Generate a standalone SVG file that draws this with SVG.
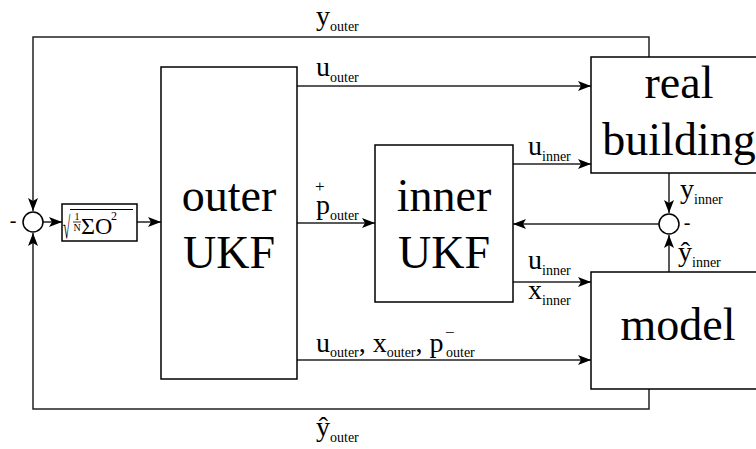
<svg xmlns="http://www.w3.org/2000/svg" width="756" height="449" viewBox="0 0 756 449">
<style>
.box{fill:#fff;stroke:#000;stroke-width:1.5}
.ln{fill:none;stroke:#222;stroke-width:1.5}
text{font-family:'Liberation Serif','DejaVu Serif',serif;fill:#000}
.big{font-size:46px;text-anchor:middle}
.lbl{font-size:28px}
.sub{font-size:14px}
</style>
<defs>
<marker id="ah" markerUnits="userSpaceOnUse" markerWidth="14" markerHeight="10" refX="13" refY="5" orient="auto">
<path d="M0,0 L13,5 L0,10 L3,5 Z" fill="#000"/>
</marker>
</defs>
<g id="connectors">
<path class="ln" d="M649,57 V37 H33 V211" marker-end="url(#ah)"/>
<path class="ln" d="M649,389 V409 H33 V233" marker-end="url(#ah)"/>
<path class="ln" d="M43,222 H62" marker-end="url(#ah)"/>
<path class="ln" d="M137,222 H161" marker-end="url(#ah)"/>
<path class="ln" d="M297,86 H591" marker-end="url(#ah)"/>
<path class="ln" d="M297,223 H375" marker-end="url(#ah)"/>
<path class="ln" d="M297,360 H591" marker-end="url(#ah)"/>
<path class="ln" d="M513,164 H591" marker-end="url(#ah)"/>
<path class="ln" d="M513,282 H591" marker-end="url(#ah)"/>
<path class="ln" d="M659,224 H513" marker-end="url(#ah)"/>
<path class="ln" d="M669,173 V213" marker-end="url(#ah)"/>
<path class="ln" d="M669,272 V235" marker-end="url(#ah)"/>
</g>
<g id="sum-left">
<circle cx="33" cy="222" r="10" fill="#fff" stroke="#000" stroke-width="1.5"/>
<text x="13" y="227" font-size="20" text-anchor="middle">-</text>
</g>
<g id="sum-right">
<circle cx="669" cy="224" r="10" fill="#fff" stroke="#000" stroke-width="1.5"/>
<text x="687" y="229" font-size="20" text-anchor="middle">-</text>
</g>
<g id="rms">
<rect class="box" x="62" y="204" width="75" height="37"/>
<text transform="translate(63,238) scale(0.6,1.4)" font-size="22">√</text>
<line x1="70" y1="209.5" x2="133" y2="209.5" stroke="#000" stroke-width="1.2"/>
<text x="77" y="220" font-size="10" text-anchor="middle">1</text>
<line x1="73" y1="222" x2="81" y2="222" stroke="#000" stroke-width="0.8"/>
<text x="77" y="231" font-size="10" text-anchor="middle">N</text>
<text x="81" y="234" font-size="24">ΣO</text>
<text x="111" y="220" font-size="12">2</text>
</g>
<g id="outer-ukf">
<rect class="box" x="161" y="67" width="136" height="312"/>
<text class="big" x="229" y="211">outer</text>
<text class="big" x="229" y="268">UKF</text>
</g>
<g id="inner-ukf">
<rect class="box" x="375" y="145" width="138" height="157"/>
<text class="big" x="444" y="211">inner</text>
<text class="big" x="444" y="268">UKF</text>
</g>
<g id="real-building">
<rect class="box" x="591" y="57" width="180" height="116"/>
<text class="big" x="679" y="98">real</text>
<text class="big" x="679" y="155">building</text>
</g>
<g id="model">
<rect class="box" x="591" y="272" width="180" height="117"/>
<text class="big" x="678" y="340">model</text>
</g>
<g id="labels">
<text class="lbl" x="316" y="25">y<tspan class="sub" dy="6">outer</tspan></text>
<text class="lbl" x="316" y="76">u<tspan class="sub" dy="6">outer</tspan></text>
<text class="lbl" x="316" y="214">p<tspan x="315" y="192" font-size="17">+</tspan><tspan class="sub" x="330" y="220">outer</tspan></text>
<text class="lbl" x="528" y="155">u<tspan class="sub" dy="6">inner</tspan></text>
<text class="lbl" x="528" y="269">u<tspan class="sub" dy="6">inner</tspan></text>
<text class="lbl" x="528" y="299">x<tspan class="sub" dy="6">inner</tspan></text>
<text class="lbl" x="680" y="198">y<tspan class="sub" dy="6">inner</tspan></text>
<text class="lbl" x="678" y="261">ŷ<tspan class="sub" dy="6">inner</tspan></text>
<text class="lbl" x="316" y="352">u<tspan class="sub" dy="5">outer</tspan><tspan dy="-5">, x</tspan><tspan class="sub" dy="5">outer</tspan><tspan dy="-5">, p</tspan><tspan x="445" y="338" font-size="17">−</tspan><tspan class="sub" x="446" y="357">outer</tspan></text>
<text class="lbl" x="316" y="436">ŷ<tspan class="sub" dy="6">outer</tspan></text>
</g>
</svg>
